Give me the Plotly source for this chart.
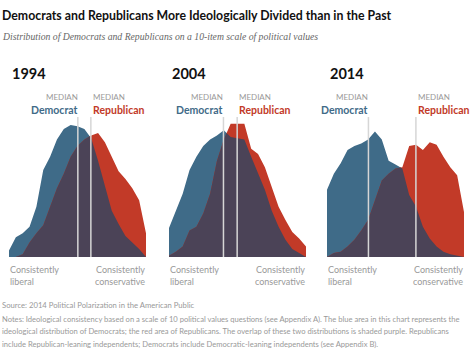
import plotly.graph_objects as go

# ---------------- data ----------------
years = ["1994", "2004", "2014"]
scale_points = list(range(21))  # ideological consistency scale, liberal -> conservative

dem_1994 = [5, 15, 18, 23, 38, 66, 76, 89, 97, 100, 99, 97, 90, 73, 53, 35, 25, 16, 11, 6, 0]
rep_1994 = [0, 0, 2, 11, 18, 24, 38, 52, 63, 76, 84, 89, 92, 94, 87, 76, 65, 59, 52, 43, 18]

dem_2004 = [22, 35, 48, 66, 76, 84, 89, 92, 96, 91, 90, 89, 76, 63, 51, 35, 23, 13, 6, 3, 0]
rep_2004 = [1, 4, 8, 20, 23, 33, 48, 73, 89, 101, 101, 101, 82, 78, 68, 53, 38, 28, 19, 14, 8]

dem_2014 = [51, 63, 71, 81, 84, 86, 89, 95, 89, 73, 70, 67, 47, 38, 23, 14, 8, 4, 2, 1, 0]
rep_2014 = [0, 3, 4, 8, 13, 20, 28, 43, 58, 63, 67, 68, 84, 85, 81, 87, 85, 76, 68, 62, 34]

dem_series = [dem_1994, dem_2004, dem_2014]
rep_series = [rep_1994, rep_2004, rep_2014]
dem_medians = [10.05, 7.95, 6.05]
rep_medians = [11.95, 9.95, 12.98]

title = "Democrats and Republicans More Ideologically Divided than in the Past"
subtitle = "Distribution of Democrats and Republicans on a 10-item scale of political values"
source = "Source: 2014 Political Polarization in the American Public"
notes = [
    "Notes: Ideological consistency based on a scale of 10 political values questions (see Appendix A). The blue area in this chart represents the",
    "ideological distribution of Democrats; the red area of Republicans. The overlap of these two distributions is shaded purple. Republicans",
    "include Republican-leaning independents; Democrats include Democratic-leaning independents (see Appendix B).",
]

# ---------------- style ----------------
W, H = 475, 356
BLUE = "#3f6b88"
RED = "#c23a28"
PURPLE = "#4b4357"
SANS = "Lato, Roboto, sans-serif"
GRAY = "#999999"

panel_px = [(9, 146), (169, 306), (327, 464)]
base_px, top_px = 257, 111.8  # y=0 and y=110


def py(p):
    return 1 - p / H


def overlap(xs, a, b):
    ox, oy = [], []
    for i in range(len(xs)):
        ox.append(xs[i]); oy.append(min(a[i], b[i]))
        if i < len(xs) - 1:
            d0 = a[i] - b[i]
            d1 = a[i + 1] - b[i + 1]
            if d0 * d1 < 0:
                t = d0 / (d0 - d1)
                ox.append(xs[i] + t * (xs[i + 1] - xs[i]))
                oy.append(a[i] + t * (a[i + 1] - a[i]))
    return ox, oy


fig = go.Figure()
annotations = []
shapes = []

for k in range(3):
    ax = "" if k == 0 else str(k + 1)
    xa, ya = "x" + ax, "y" + ax
    dem, rep = dem_series[k], rep_series[k]
    fig.add_trace(go.Scatter(x=scale_points, y=dem, xaxis=xa, yaxis=ya, mode="lines",
                             line=dict(width=0, color=BLUE), fill="tozeroy", fillcolor=BLUE,
                             hoverinfo="skip", showlegend=False))
    fig.add_trace(go.Scatter(x=scale_points, y=rep, xaxis=xa, yaxis=ya, mode="lines",
                             line=dict(width=0, color=RED), fill="tozeroy", fillcolor=RED,
                             hoverinfo="skip", showlegend=False))
    ox, oy = overlap(scale_points, dem, rep)
    fig.add_trace(go.Scatter(x=ox, y=oy, xaxis=xa, yaxis=ya, mode="lines",
                             line=dict(width=0, color=PURPLE), fill="tozeroy", fillcolor=PURPLE,
                             hoverinfo="skip", showlegend=False))

    x0, x1 = panel_px[k]
    axis_common = dict(showgrid=False, zeroline=False, showticklabels=False,
                       showline=False, ticks="", fixedrange=True)
    fig.update_layout(**{
        "xaxis" + ax: dict(domain=[x0 / W, x1 / W], range=[0, 20], anchor=ya, **axis_common),
        "yaxis" + ax: dict(domain=[py(base_px), py(top_px)], range=[0, 110], anchor=xa, **axis_common),
    })

    for m in (dem_medians[k], rep_medians[k]):
        shapes.append(dict(type="line", xref=xa, yref=ya, x0=m, x1=m, y0=-2, y1=106,
                           line=dict(color="#d6d6d6", width=1.5), layer="above"))

    # year
    annotations.append(dict(text="<b>%s</b>" % years[k], xref="paper", yref="paper",
                            x=(x0 + 1) / W, y=py(73), xanchor="left", yanchor="middle",
                            showarrow=False, font=dict(family=SANS, size=14.5, color="#111")))
    # median labels
    annotations.append(dict(text="MEDIAN", xref=xa, yref="paper", x=dem_medians[k], xshift=2,
                            y=py(97), xanchor="right", yanchor="middle", showarrow=False,
                            font=dict(family=SANS, size=8, color=GRAY)))
    annotations.append(dict(text="<b>Democrat</b>", xref=xa, yref="paper", x=dem_medians[k], xshift=2,
                            y=py(110), xanchor="right", yanchor="middle", showarrow=False,
                            font=dict(family=SANS, size=10.5, color=BLUE)))
    annotations.append(dict(text="MEDIAN", xref=xa, yref="paper", x=rep_medians[k], xshift=0,
                            y=py(97), xanchor="left", yanchor="middle", showarrow=False,
                            font=dict(family=SANS, size=8, color=GRAY)))
    annotations.append(dict(text="<b>Republican</b>", xref=xa, yref="paper", x=rep_medians[k], xshift=0,
                            y=py(110), xanchor="left", yanchor="middle", showarrow=False,
                            font=dict(family=SANS, size=10.5, color=RED)))
    # axis end labels
    for txt, yy in (("Consistently", 269), ("liberal", 281)):
        annotations.append(dict(text=txt, xref="paper", yref="paper", x=(x0 - 1) / W, y=py(yy),
                                xanchor="left", yanchor="middle", showarrow=False,
                                font=dict(family=SANS, size=9, color=GRAY)))
    for txt, yy in (("Consistently", 269), ("conservative", 281)):
        annotations.append(dict(text=txt, xref="paper", yref="paper", x=(x1 + 1) / W, y=py(yy),
                                xanchor="right", yanchor="middle", showarrow=False,
                                font=dict(family=SANS, size=9, color=GRAY)))

annotations.append(dict(text="<b>%s</b>" % title, xref="paper", yref="paper", x=0, y=py(15),
                        xanchor="left", yanchor="middle", showarrow=False,
                        font=dict(family=SANS, size=12.3, color="#111")))
annotations.append(dict(text="<i>%s</i>" % subtitle, xref="paper", yref="paper", x=0, y=py(37),
                        xanchor="left", yanchor="middle", showarrow=False,
                        font=dict(family="Liberation Serif", size=9.7, color="#666")))
annotations.append(dict(text=source, xref="paper", yref="paper", x=0, y=py(305),
                        xanchor="left", yanchor="middle", showarrow=False,
                        font=dict(family=SANS, size=7.7, color=GRAY)))
for i, line in enumerate(notes):
    annotations.append(dict(text=line, xref="paper", yref="paper", x=0, y=py(318.5 + 12.5 * i),
                            xanchor="left", yanchor="middle", showarrow=False,
                            font=dict(family=SANS, size=7.6, color=GRAY)))

fig.update_layout(width=W, height=H, margin=dict(l=0, r=0, t=0, b=0),
                  paper_bgcolor="white", plot_bgcolor="white",
                  annotations=annotations, shapes=shapes, showlegend=False)

fig.write_html("out.html", config={"displayModeBar": False},
               post_script="document.body.style.margin='0';document.body.style.padding='0';")
